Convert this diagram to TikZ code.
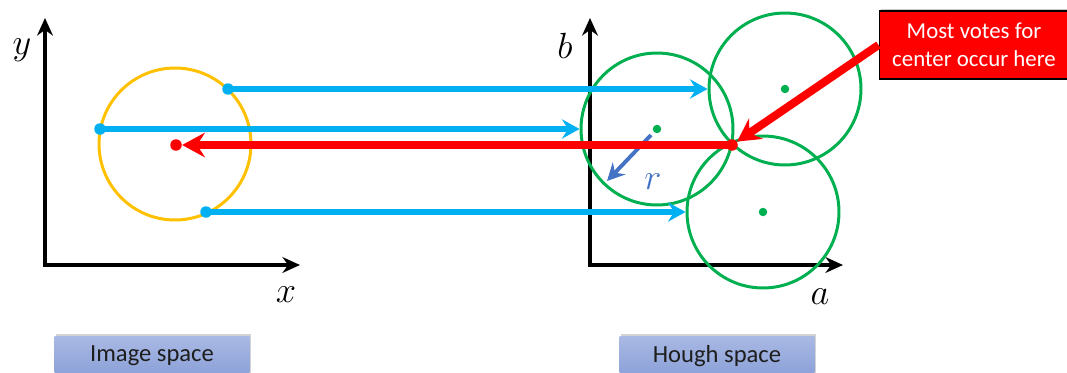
\documentclass[tikz,border=0pt]{standalone}
\usepackage{fontspec}
\setmainfont{Carlito}
\usetikzlibrary{arrows.meta}
\usetikzlibrary{shadows}

\begin{document}
\begin{tikzpicture}[x=0.02cm, y=-0.02cm,
    axisline/.style={draw={rgb,255:red,0;green,0;blue,0}, line width=2.2pt, line join=miter, {Stealth[length=10pt, width=9pt]}-{Stealth[length=10pt, width=9pt]}},
    axislabel/.style={text={rgb,255:red,0;green,0;blue,0}, font=\fontsize{20}{24}\selectfont},
    votearrow/.style={draw={rgb,255:red,0;green,176;blue,240}, line width=3pt, -{Stealth[length=10pt, width=11pt, inset=3.5pt]}},
    centerarrow/.style={draw={rgb,255:red,255;green,0;blue,0}, line width=4.6pt, -{Stealth[length=13pt, width=14pt, inset=4.5pt]}},
    dot/.style={circle, inner sep=0pt, minimum size=0.23cm},
    houghcircle/.style={draw={rgb,255:red,0;green,176;blue,80}, line width=1.7pt, circle, inner sep=0pt, minimum size=3.04cm},
    spacebox/.style={draw=none, rectangle, top color={rgb,255:red,170;green,185;blue,228}, bottom color={rgb,255:red,138;green,160;blue,216}, text={rgb,255:red,30;green,30;blue,30}, font=\fontsize{14}{17}\selectfont, minimum width=3.9cm, minimum height=0.8cm, drop shadow={shadow xshift=1pt, shadow yshift=1pt, opacity=0.35}}]

    \useasboundingbox (0,0) rectangle (1067,372);

    % image space
    \coordinate (ndImgOrigin) at (45,265);
    \coordinate (ndImgY) at (45,18);
    \coordinate (ndImgX) at (300,265);
    \draw[axisline] (ndImgY) -- (ndImgOrigin) -- (ndImgX);
    \node[axislabel] (ndLabelY) at (22,50) {$y$};
    \node[axislabel] (ndLabelX) at (286,295) {$x$};

    \node[draw={rgb,255:red,255;green,192;blue,0}, line width=1.7pt, circle, inner sep=0pt, minimum size=3.04cm] (ndImgCircle) at (175,144) {};
    \node[dot, fill={rgb,255:red,255;green,0;blue,0}] (ndCenter) at (176,145) {};
    \node[dot, fill={rgb,255:red,0;green,176;blue,240}] (ndEdgeA) at (228,89) {};
    \node[dot, fill={rgb,255:red,0;green,176;blue,240}] (ndEdgeB) at (100,129) {};
    \node[dot, fill={rgb,255:red,0;green,176;blue,240}] (ndEdgeC) at (206,212) {};

    % hough space
    \coordinate (ndHoughOrigin) at (590,265);
    \coordinate (ndHoughY) at (590,18);
    \coordinate (ndHoughX) at (843,265);
    \draw[axisline] (ndHoughY) -- (ndHoughOrigin) -- (ndHoughX);
    \node[axislabel] (ndLabelB) at (565,46) {$b$};
    \node[axislabel] (ndLabelA) at (820,297) {$a$};

    \node[houghcircle] (ndHoughA) at (785,89) {};
    \node[houghcircle] (ndHoughB) at (657,129) {};
    \node[houghcircle] (ndHoughC) at (763,212) {};
    \node[dot, minimum size=0.17cm, fill={rgb,255:red,0;green,176;blue,80}] (ndHoughDotA) at (785,89) {};
    \node[dot, minimum size=0.17cm, fill={rgb,255:red,0;green,176;blue,80}] (ndHoughDotB) at (657,129) {};
    \node[dot, minimum size=0.17cm, fill={rgb,255:red,0;green,176;blue,80}] (ndHoughDotC) at (763,212) {};

    \draw[votearrow] (ndEdgeA.center) -- (ndHoughA.west);
    \draw[votearrow] (ndEdgeB.center) -- (ndHoughB.west);
    \draw[votearrow] (ndEdgeC.center) -- (ndHoughC.west);

    \coordinate (ndRadiusStart) at (651,135);
    \coordinate (ndRadiusEnd) at (607,181);
    \draw[draw={rgb,255:red,68;green,114;blue,196}, line width=2.2pt, -{Stealth[length=10pt, width=10pt, inset=3.5pt]}] (ndRadiusStart) -- (ndRadiusEnd);
    \node[text={rgb,255:red,68;green,114;blue,196}, font=\fontsize{20}{24}\selectfont] (ndLabelR) at (653,182) {$r$};

    \node[dot, fill={rgb,255:red,255;green,0;blue,0}] (ndMostVotes) at (732,145) {};
    \draw[centerarrow] (ndMostVotes.center) -- (ndCenter);

    \node[draw={rgb,255:red,0;green,0;blue,0}, fill={rgb,255:red,255;green,0;blue,0}, text={rgb,255:red,255;green,255;blue,255}, line width=0.6pt, rectangle, align=center, font=\fontsize{13}{16}\selectfont, minimum width=3.8cm, minimum height=1.36cm, drop shadow={shadow xshift=1pt, shadow yshift=1pt, opacity=0.4}] (ndNote) at (974,45) {Most votes for\\center occur here};
    \draw[centerarrow] (ndNote.west) -- (ndMostVotes);

    % labels
    \node[spacebox] (ndImageSpace) at (152,356) {Image space};
    \node[spacebox] (ndHoughSpace) at (717,356) {Hough space};
\end{tikzpicture}
\end{document}
